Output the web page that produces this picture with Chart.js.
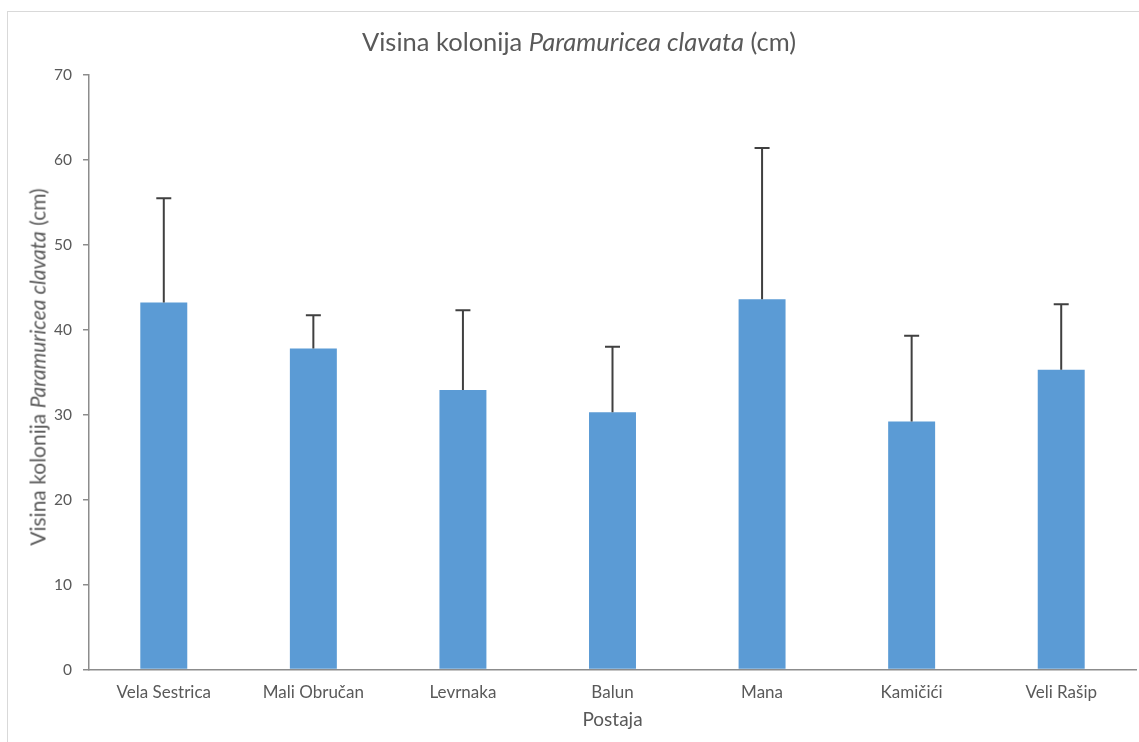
<!DOCTYPE html>
<html>
<head>
<meta charset="utf-8">
<script src="https://cdn.jsdelivr.net/npm/chart.js@4.4.1/dist/chart.umd.min.js"></script>
<style>
  html, body { margin: 0; padding: 0; background: #fff; }
  #wrap { position: relative; width: 1139px; height: 742px; overflow: hidden; font-family: Lato, "Open Sans", sans-serif; color: #595959; }
  #okvir { position: absolute; left: 7px; top: 11px; width: 1200px; height: 800px; border: 1px solid #d9d9d9; box-sizing: border-box; }
  #naslov { position: absolute; left: 579px; top: 41px; transform: translate(-50%, -50%); font-size: 25.5px; white-space: nowrap; }
  #naslovY { position: absolute; left: 37px; top: 367px; transform: translate(-50%, -50%) rotate(-90deg); font-size: 21px; white-space: nowrap; }
  canvas { position: absolute; left: 0; top: 0; }
</style>
</head>
<body>
<div id="wrap">
  <div id="okvir"></div>
  <canvas id="grafikon" width="1139" height="742"></canvas>
  <div id="naslov">Visina kolonija <i>Paramuricea clavata</i> (cm)</div>
  <div id="naslovY">Visina kolonija <i>Paramuricea clavata</i> (cm)</div>
</div>
<script>
// --- PODACI ---
const postaje = ["Vela Sestrica", "Mali Obručan", "Levrnaka", "Balun", "Mana", "Kamičići", "Veli Rašip"];
const srednjaVisina = [43.2, 37.8, 32.9, 30.3, 43.6, 29.2, 35.3];
const standardnaDev = [12.3, 3.9, 9.4, 7.7, 17.8, 10.1, 7.7];

const BOJA_TEKSTA = "#595959";
const BOJA_OSI = "#8c8c8c";

// --- ERROR BAR PLUGIN (samo pozitivni smjer) ---
const errorBarPlugin = {
    id: "errorBars",
    afterDatasetsDraw(chart) {
        const ctx = chart.ctx;
        const meta = chart.getDatasetMeta(0);
        const yScale = chart.scales.y;
        ctx.save();
        ctx.strokeStyle = "#404040";
        ctx.lineWidth = 2;
        meta.data.forEach((bar, i) => {
            const vrh = yScale.getPixelForValue(srednjaVisina[i] + standardnaDev[i]);
            ctx.beginPath();
            ctx.moveTo(bar.x, bar.y);
            ctx.lineTo(bar.x, vrh);
            ctx.moveTo(bar.x - 7.5, vrh);
            ctx.lineTo(bar.x + 7.5, vrh);
            ctx.stroke();
        });
        ctx.restore();
    }
};

new Chart(document.getElementById("grafikon"), {
    type: "bar",
    data: {
        labels: postaje,
        datasets: [{
            label: "Visina kolonija",
            data: srednjaVisina,
            backgroundColor: "#5b9bd5",
            borderWidth: 0,
            barPercentage: 0.314,
            categoryPercentage: 1
        }]
    },
    options: {
        responsive: false,
        animation: false,
        devicePixelRatio: 1,
        layout: { padding: { top: 75, right: 3, bottom: 0, left: 0 } },
        plugins: {
            legend: { display: false },
            tooltip: { enabled: false }
        },
        scales: {
            x: {
                grid: { display: false, drawTicks: false },
                border: { display: true, color: BOJA_OSI, width: 1.5 },
                ticks: { color: BOJA_TEKSTA, font: { family: "Lato", size: 17 }, padding: 13, maxRotation: 0 },
                title: { display: true, text: "Postaja", color: BOJA_TEKSTA, font: { family: "Lato", size: 19 }, padding: { top: 0, bottom: 11 } },
                afterFit: s => { s.height = 72.5; }
            },
            y: {
                min: 0,
                max: 70,
                grid: { drawOnChartArea: false, drawTicks: true, tickLength: 6, color: BOJA_OSI, lineWidth: 1.5 },
                border: { display: true, color: BOJA_OSI, width: 1.5 },
                ticks: { stepSize: 10, color: BOJA_TEKSTA, font: { family: "Lato", size: 15.5 }, padding: 11 },
                afterFit: s => { s.width = 89; }
            }
        }
    },
    plugins: [errorBarPlugin]
});
</script>
</body>
</html>
